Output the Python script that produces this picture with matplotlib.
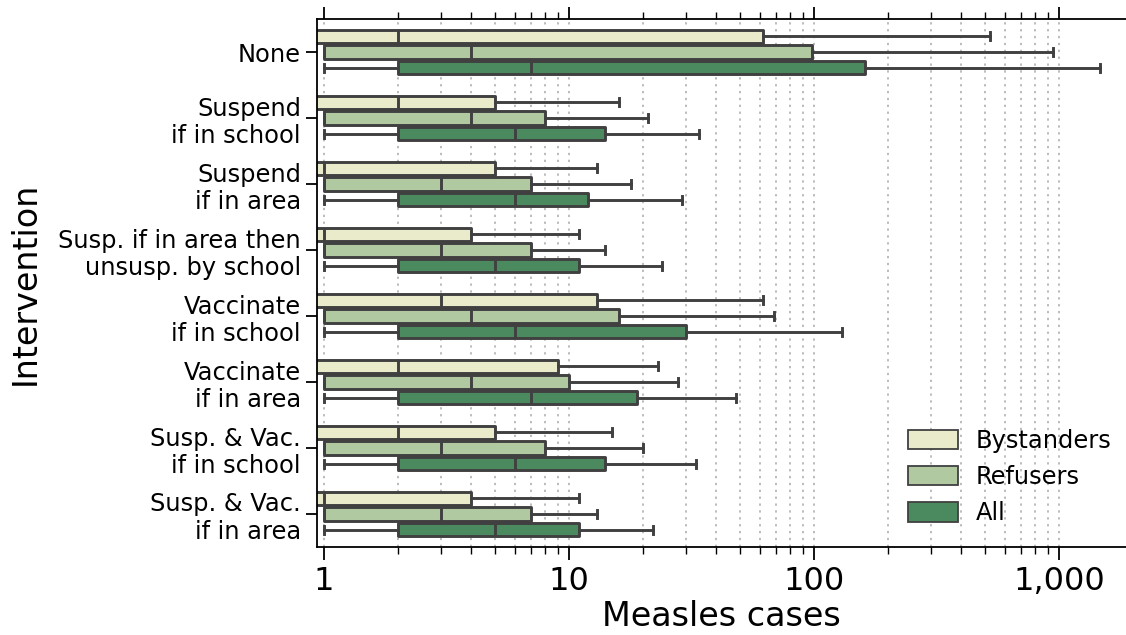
import numpy as np
import matplotlib.pyplot as plt
from matplotlib.patches import Patch
from matplotlib.ticker import FuncFormatter, LogLocator

interventions = ['None', 'Suspend\nif in school', 'Suspend\nif in area',
                 'Susp. if in area then\nunsusp. by school',
                 'Vaccinate\nif in school', 'Vaccinate\nif in area',
                 'Susp. & Vac.\nif in school', 'Susp. & Vac.\nif in area']
groups = ['Bystanders', 'Refusers', 'All']
colors = ['#e9ebca', '#b0c9a0', '#4b8a5e']

# box statistics (one value per intervention)
whis_lo = {'Bystanders': [0, 0, 0, 0, 0, 0, 0, 0],
           'Refusers':   [1, 1, 1, 1, 1, 1, 1, 1],
           'All':        [1, 1, 1, 1, 1, 1, 1, 1]}
q1 = {'Bystanders': [0, 0, 0, 0, 0, 0, 0, 0],
      'Refusers':   [1, 1, 1, 1, 1, 1, 1, 1],
      'All':        [2, 2, 2, 2, 2, 2, 2, 2]}
med = {'Bystanders': [2, 2, 1, 1, 3, 2, 2, 1],
       'Refusers':   [4, 4, 3, 3, 4, 4, 3, 3],
       'All':        [7, 6, 6, 5, 6, 7, 6, 5]}
q3 = {'Bystanders': [62, 5, 5, 4, 13, 9, 5, 4],
      'Refusers':   [98, 8, 7, 7, 16, 10, 8, 7],
      'All':        [162, 14, 12, 11, 30, 19, 14, 11]}
whis_hi = {'Bystanders': [524, 16, 13, 11, 62, 23, 15, 11],
           'Refusers':   [946, 21, 18, 14, 69, 28, 20, 13],
           'All':        [1470, 34, 29, 24, 130, 48, 33, 22]}

edge = '#404040'
lw = 2.1

fig = plt.figure(figsize=(11.26, 6.35), dpi=100)
ax = fig.add_axes([0.2815, 0.1386, 0.7185, 0.8314])
ax.set_xscale('log', nonpositive='clip')

offsets = [-0.24, 0.0, 0.24]
for k, g in enumerate(groups):
    stats = []
    for i in range(len(interventions)):
        stats.append(dict(whislo=whis_lo[g][i], q1=q1[g][i], med=med[g][i],
                          q3=q3[g][i], whishi=whis_hi[g][i], fliers=[]))
    ax.bxp(stats, positions=np.arange(len(interventions)) + offsets[k],
           widths=0.2, capwidths=0.13, orientation='horizontal',
           patch_artist=True, showfliers=False, manage_ticks=False,
           boxprops=dict(facecolor=colors[k], edgecolor=edge, linewidth=lw,
                         joinstyle='round'),
           medianprops=dict(color=edge, linewidth=lw),
           whiskerprops=dict(color=edge, linewidth=lw),
           capprops=dict(color=edge, linewidth=lw))

ax.set_xlim(0.936, 1880)
ax.set_ylim(7.5, -0.5)
ax.set_yticks(range(len(interventions)))
ax.set_yticklabels(interventions, fontsize=17.4)

ax.xaxis.set_major_locator(LogLocator(base=10))
ax.xaxis.set_minor_locator(LogLocator(base=10, subs=np.arange(2, 10)))
ax.xaxis.set_major_formatter(FuncFormatter(lambda v, p: '{:,.0f}'.format(v)))
ax.tick_params(axis='x', which='major', labelsize=23, length=9, width=1.3,
               top=True, direction='out', pad=5)
ax.tick_params(axis='x', which='minor', length=5, width=1.0, top=True)
ax.tick_params(axis='y', length=8, width=1.3)

ax.grid(True, which='both', axis='x', linestyle=(0, (1.5, 3)),
        color='#aaaaaa', linewidth=1.1)
ax.set_axisbelow(True)

ax.spines['right'].set_visible(False)
for s in ['top', 'left', 'bottom']:
    ax.spines[s].set_linewidth(1.3)

ax.set_xlabel('Measles cases', fontsize=24, labelpad=2)
ax.set_ylabel('Intervention', fontsize=24, labelpad=12)

handles = [Patch(facecolor=c, edgecolor=edge, linewidth=1.3, label=g)
           for g, c in zip(groups, colors)]
ax.legend(handles=handles, loc='lower right', frameon=False, fontsize=17.4,
          handlelength=2.05, handleheight=0.85, labelspacing=0.5,
          handletextpad=0.75, bbox_to_anchor=(1.009, 0.0))

fig.savefig('out.png', dpi=100)
